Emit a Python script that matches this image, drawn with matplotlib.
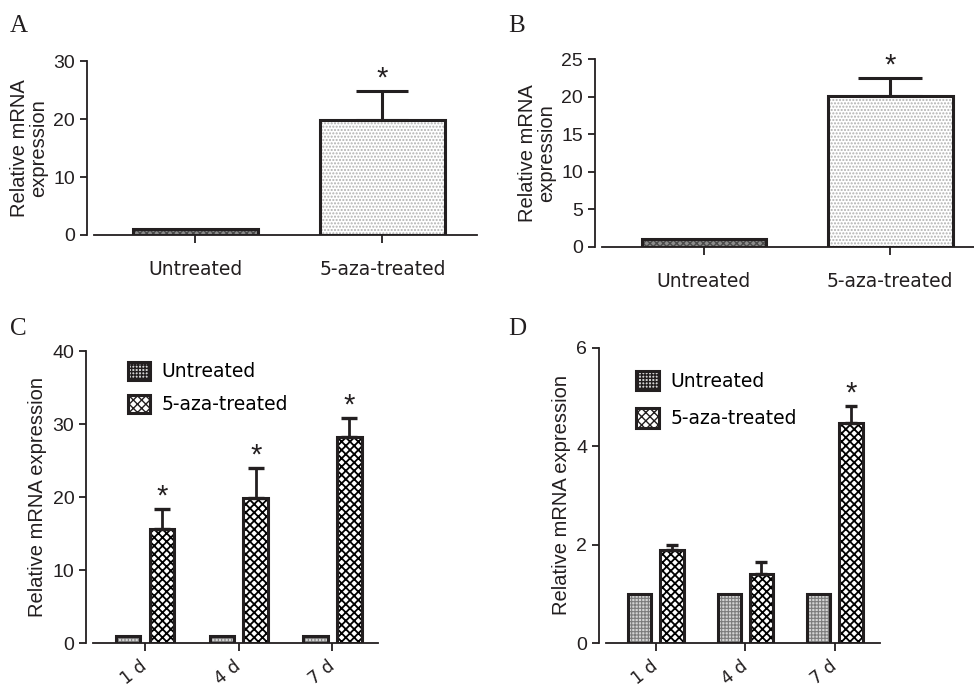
import matplotlib
matplotlib.use("Agg")
import matplotlib.pyplot as plt
from matplotlib.patches import Patch
import numpy as np

ink = '#231f20'
tick_font = 'Liberation Sans'
label_font_size = 14.5
tick_font_size = 14
cat_font_size = 13.5

# panel A / B
groups_ab = ['Untreated', '5-aza-treated']
a_vals = [1.0, 19.9]
a_err = [0.0, 4.9]
b_vals = [1.0, 20.1]
b_err = [0.0, 2.4]

# panel C / D
days = ['1 d', '4 d', '7 d']
c_untreated = [1.0, 1.0, 1.0]
c_treated = [15.6, 19.9, 28.2]
c_treated_err = [2.8, 4.1, 2.6]
c_sig = [True, True, True]
d_untreated = [1.0, 1.0, 1.0]
d_treated = [1.89, 1.40, 4.47]
d_treated_err = [0.10, 0.25, 0.35]
d_sig = [False, False, True]

untr_face, untr_hatch = '#d4d4d4', '#7c7c7c'
checker = 'xxxx'
checker_lw = 1.3


def style_axes(ax, ymax, yticks):
    ax.spines['right'].set_visible(False)
    ax.spines['top'].set_visible(False)
    ax.spines['left'].set_position(('outward', 5))
    for s in ('left', 'bottom'):
        ax.spines[s].set_linewidth(1.3)
        ax.spines[s].set_color(ink)
    ax.set_ylim(0, ymax)
    ax.set_yticks(yticks)
    ax.tick_params(axis='y', direction='out', length=5, width=1.3, color=ink,
                   labelsize=tick_font_size, labelcolor=ink)
    ax.tick_params(axis='x', direction='out', length=6, width=1.3, color=ink)
    for lab in ax.get_yticklabels():
        lab.set_fontfamily(tick_font)


def star(ax, x, y):
    ax.annotate('*', (x, y), xytext=(0, 9), textcoords='offset points',
                ha='center', va='center', fontsize=21, color=ink,
                family=tick_font)


def two_bar_panel(ax, vals, err, ymax, yticks, capsize):
    x = np.arange(len(vals))
    with plt.rc_context({'hatch.linewidth': 1.0}):
        ax.bar(x[:1], vals[:1], width=0.67, color='#8c8c8c', edgecolor='#4a4a4a',
               hatch='xxxxx', linewidth=0)
        ax.bar(x[1:], vals[1:], width=0.67, color='white', edgecolor='#b0b0b0',
               hatch='.....', linewidth=0)
    ax.bar(x, vals, width=0.67, fill=False, edgecolor=ink, linewidth=2.2)
    ax.errorbar(x[1:], vals[1:], yerr=[[0], err[1:]], fmt='none', ecolor=ink,
                elinewidth=2.2, capsize=capsize, capthick=2.2)
    star(ax, x[1], vals[1] + err[1])
    ax.set_xticks(x)
    ax.set_xticklabels(groups_ab, fontsize=cat_font_size, color=ink,
                       family='DejaVu Sans')
    ax.tick_params(axis='x', pad=12)
    ax.set_ylabel('Relative mRNA\nexpression', fontsize=label_font_size,
                  family=tick_font, color=ink, linespacing=1.0)
    style_axes(ax, ymax, yticks)


def day_panel(ax, untreated, treated, err, sig, ymax, yticks, capsize,
              leg_anchor, leg_space, leg_h):
    x = np.arange(len(days))
    w = 0.26
    off = 0.18
    with plt.rc_context({'hatch.linewidth': 0.8}):
        ax.bar(x - off, untreated, width=w, color=untr_face, edgecolor=untr_hatch,
               hatch='+++++', linewidth=0)
    with plt.rc_context({'hatch.linewidth': checker_lw}):
        ax.bar(x + off, treated, width=w, color='white', edgecolor='black',
               hatch=checker, linewidth=0)
    ax.bar(x - off, untreated, width=w, fill=False, edgecolor=ink, linewidth=2.2)
    ax.bar(x + off, treated, width=w, fill=False, edgecolor=ink, linewidth=2.2)
    ax.errorbar(x + off, treated, yerr=[np.zeros(len(x)), err], fmt='none',
                ecolor=ink, elinewidth=2.0, capsize=capsize, capthick=2.4)
    for xi, v, e, s in zip(x, treated, err, sig):
        if s:
            star(ax, xi + off, v + e)
    ax.set_xticks(x)
    ax.set_xticklabels(days, fontsize=12.5, color=ink,
                       family='DejaVu Sans', rotation=38, ha='right',
                       va='center', rotation_mode='anchor')
    ax.tick_params(axis='x', pad=9)
    ax.set_ylabel('Relative mRNA expression', fontsize=label_font_size,
                  family=tick_font, color=ink)
    style_axes(ax, ymax, yticks)
    with plt.rc_context({'hatch.linewidth': 0.8}):
        h1 = Patch(facecolor=untr_face, edgecolor=ink, hatch='+++++', linewidth=2.2)
    with plt.rc_context({'hatch.linewidth': checker_lw}):
        h2 = Patch(facecolor='white', edgecolor=ink, hatch=checker, linewidth=2.2)
    ax.legend([h1, h2], ['Untreated', '5-aza-treated'], loc='upper left',
              bbox_to_anchor=leg_anchor, frameon=False,
              prop={'family': 'DejaVu Sans', 'size': cat_font_size},
              handlelength=1.2, handleheight=leg_h, labelspacing=leg_space,
              handletextpad=0.6)


fig = plt.figure(figsize=(9.74, 6.87), dpi=100)

axA = fig.add_axes([0.0965, 0.658, 0.393, 0.253])
two_bar_panel(axA, a_vals, a_err, 30, [0, 10, 20, 30], 19)
axA.set_xlim(-0.543, 1.505)

axB = fig.add_axes([0.618, 0.6405, 0.382, 0.2735])
two_bar_panel(axB, b_vals, b_err, 25, [0, 5, 10, 15, 20, 25], 23)
axB.set_xlim(-0.548, 1.45)

axC = fig.add_axes([0.0955, 0.064, 0.293, 0.425])
day_panel(axC, c_untreated, c_treated, c_treated_err, c_sig,
          40, [0, 10, 20, 30, 40], 5.5, (0.062, 1.02), 0.7, 1.1)
axC.set_xlim(-0.556, 2.49)

axD = fig.add_axes([0.622, 0.064, 0.281, 0.4295])
day_panel(axD, d_untreated, d_treated, d_treated_err, d_sig,
          6, [0, 2, 4, 6], 4.3, (0.05, 0.98), 0.95, 1.2)
axD.set_xlim(-0.559, 2.50)

for letter, x, y in [('A', 0.010, 0.954), ('B', 0.522, 0.954),
                     ('C', 0.010, 0.512), ('D', 0.522, 0.512)]:
    fig.text(x, y, letter, fontsize=18, family='Liberation Serif', color=ink,
             va='baseline')

fig.savefig('out.png', dpi=100)
